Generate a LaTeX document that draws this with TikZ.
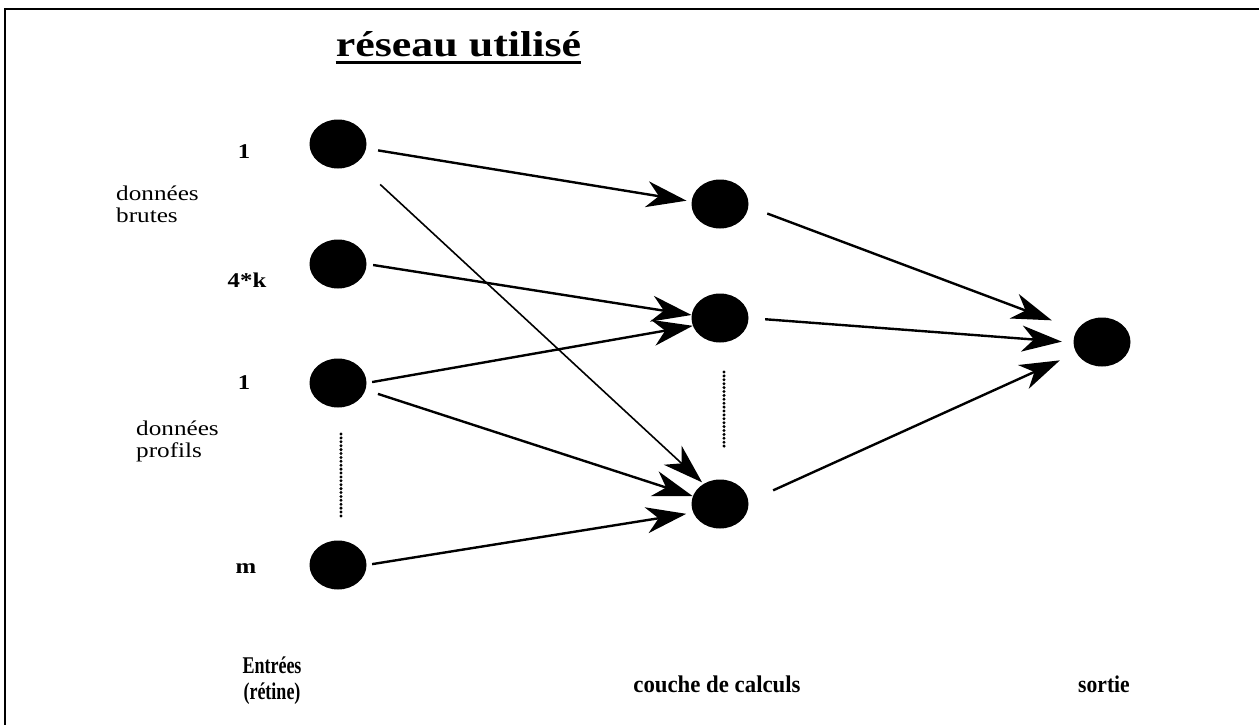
\documentclass[tikz,border=0pt]{standalone}
\usepackage{graphicx}
\usepackage{fontspec}
\setmainfont{Liberation Serif}
\usetikzlibrary{arrows.meta,shapes.geometric}
\newcommand{\hs}[2][1.2]{\scalebox{#1}[1]{#2}}
\begin{document}
\begin{tikzpicture}[x=1pt,y=-1pt,
  neuron/.style={ellipse, fill=black, minimum width=57pt, minimum height=49pt, inner sep=0pt},
  arr/.style={line width=2.4pt, -{Stealth[length=40pt,width=26pt,inset=12pt]}},
  thinarr/.style={line width=1.6pt, -{Stealth[length=40pt,width=26pt,inset=12pt]}},
  dotline/.style={line width=3.3pt, line cap=round, dash pattern=on 0pt off 3.9pt},
  lbl/.style={font=\fontsize{21}{24}\selectfont\bfseries, inner sep=0pt, anchor=base},
  side/.style={font=\fontsize{21}{22}\selectfont, inner sep=0pt, anchor=base west},
  bottom/.style={font=\fontsize{24}{26}\selectfont\bfseries, inner sep=0pt, anchor=base},
  frame/.style={line width=2pt}
]
\useasboundingbox (0,0) rectangle (1259,725);
% frame
\coordinate (fr1) at (1259,9);
\coordinate (fr2) at (5,9);
\coordinate (fr3) at (5,725);
\draw[frame] (fr1) -- (fr2) -- (fr3);
% title
\node[font=\fontsize{36}{40}\selectfont\bfseries, inner sep=0pt, anchor=base] (title) at (458.5,57) {\hs[1.22]{réseau utilisé}};
\draw[line width=3pt] ([yshift=-5.7pt]title.base west) -- ([yshift=-5.7pt]title.base east);
% neurons
\node[neuron] (in1) at (338,144) {};
\node[neuron] (in2) at (338,264) {};
\node[neuron] (in3) at (338,383) {};
\node[neuron] (in4) at (338,565) {};
\node[neuron] (h1) at (720,204) {};
\node[neuron] (h2) at (720,318) {};
\node[neuron] (h3) at (720,504) {};
\node[neuron] (out) at (1102,342) {};
% labels
\node[lbl] (l1) at (244,158) {\hs[1.18]{1}};
\node[lbl] (l2) at (247,287) {\hs[1.18]{4*k}};
\node[lbl] (l3) at (244,389) {\hs[1.18]{1}};
\node[lbl] (l4) at (246,573) {\hs[1.18]{m}};
\node[side] (db1) at (116,200) {\hs[1.2]{données}};
\node[side] (db2) at (116,222) {\hs[1.2]{brutes}};
\node[side] (dp1) at (136,435) {\hs[1.2]{données}};
\node[side] (dp2) at (136,457) {\hs[1.2]{profils}};
\node[bottom] (e1) at (272,673) {\hs[0.75]{Entrées}};
\node[bottom] (e2) at (272,699) {\hs[0.75]{(rétine)}};
\node[bottom] (cc) at (717,692) {\hs[0.95]{couche de calculs}};
\node[bottom] (so) at (1104,692) {\hs[0.9]{sortie}};
% dotted
\coordinate (dA1) at (341,434);
\coordinate (dA2) at (341,516);
\coordinate (dB1) at (724,372);
\coordinate (dB2) at (724,449);
\draw[dotline] (dA1) -- (dA2);
\draw[dotline] (dB1) -- (dB2);
% connectors
\draw[arr, shorten <=12pt, shorten >=5pt] (in1.-9) -- (h1.175);
\draw[thinarr, shorten <=32pt, shorten >=2pt] (in1.-45) -- (h3.129);
\draw[arr, shorten <=6.5pt] (in2.0) -- (h2.174);
\draw[arr, shorten <=5.5pt] (in3.0) -- (h2.196);
\draw[arr, shorten <=13pt] (in3.-14) -- (h3.164);
\draw[arr, shorten <=5.5pt, shorten >=7pt] (in4.0) -- (h3.198);
\draw[arr, shorten <=20pt, shorten >=27pt] (h1.-5) -- (out.154);
\draw[arr, shorten <=16.5pt, shorten >=11.5pt] (h2.0) -- (out.181);
\draw[arr, shorten <=27pt, shorten >=18pt] (h3.5) -- (out.203);
\end{tikzpicture}
\end{document}
